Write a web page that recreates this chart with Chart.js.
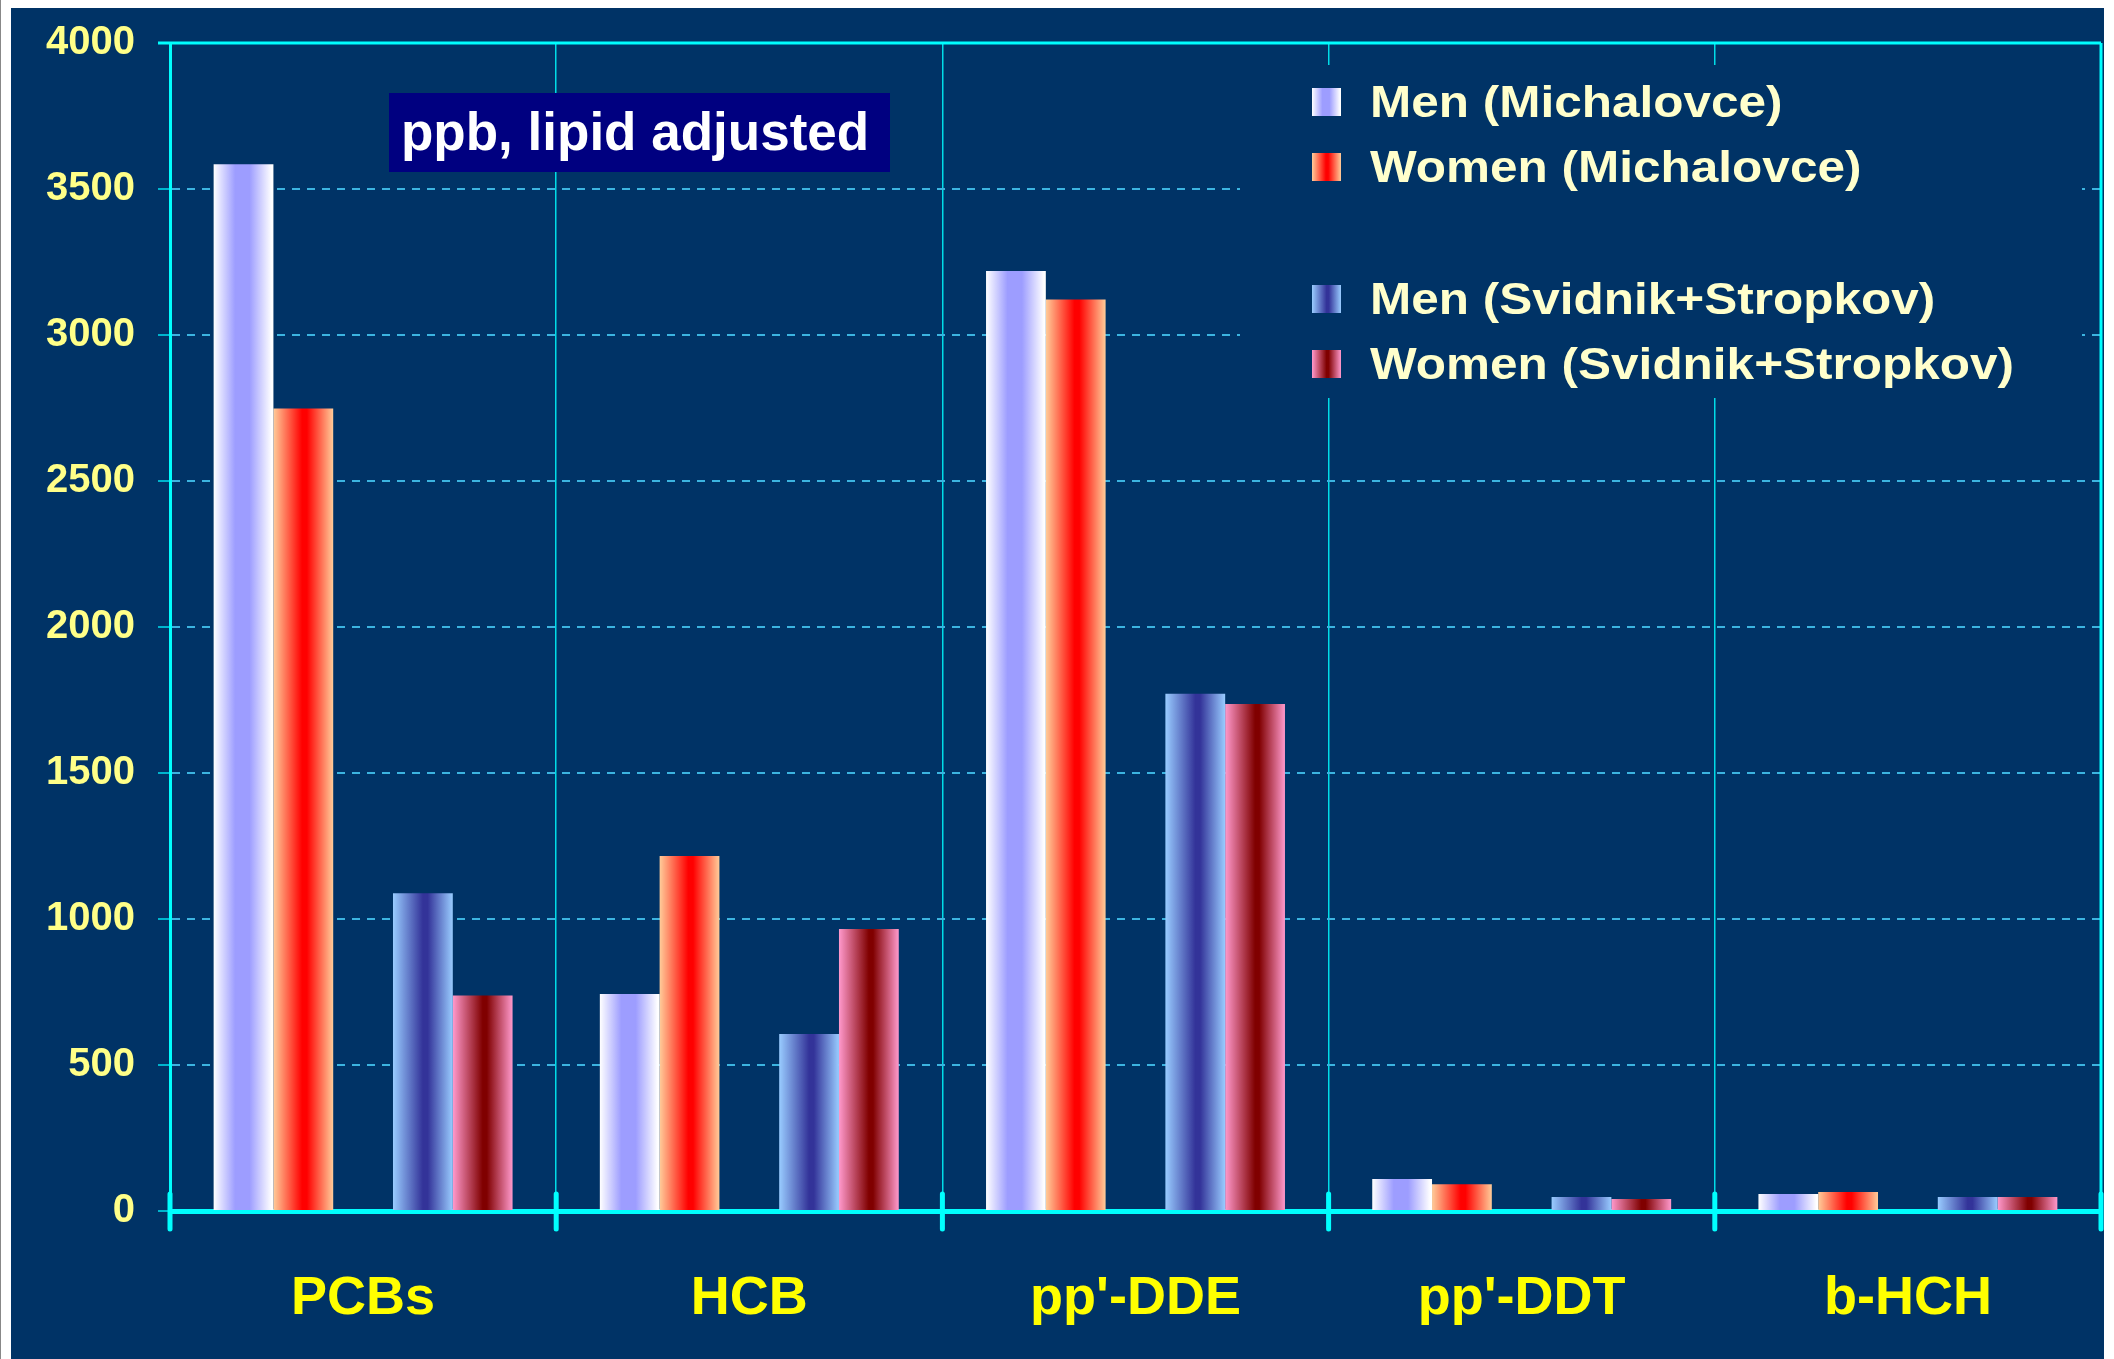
<!DOCTYPE html>
<html><head><meta charset="utf-8">
<script src="https://cdn.jsdelivr.net/npm/chart.js@4.4.1/dist/chart.umd.min.js"></script>
<style>
html,body{margin:0;padding:0;background:#fff;width:2114px;height:1359px;overflow:hidden;}
#edge{position:absolute;left:0;top:0;width:1px;height:1359px;background:#888;}
#wrap{position:absolute;left:11px;top:8px;width:2093px;height:1351px;background:#003366;}
canvas{display:block;}
</style></head><body>
<div id="edge"></div>
<div id="wrap"><canvas id="c" width="2093" height="1351"></canvas></div>
<script>
// ---- data ----
const categories = ["PCBs", "HCB", "pp'-DDE", "pp'-DDT", "b-HCH"];
const menMichalovce   = [3585, 743, 3219, 110, 58];
const womenMichalovce = [2748, 1216, 3122, 92, 65];
const menSvidnik      = [1088, 606, 1771, 48, 48];
const womenSvidnik    = [738, 966, 1736, 41, 48];
const seriesLabels = ["Men (Michalovce)", "Women (Michalovce)", "Men (Svidnik+Stropkov)", "Women (Svidnik+Stropkov)"];
const yMin = 0, yMax = 4000, yStep = 500;
const unitNote = "ppb, lipid adjusted";

// ---- styles ----
const BG = '#003366';
const CYAN = '#00ffff';
const gradStops = {
  menM:   [[0,'#ffffff'],[0.36,'#9d9dff'],[0.6,'#9d9dff'],[0.97,'#ffffff'],[1,'#ffffff']],
  womenM: [[0,'#ffcc99'],[0.48,'#ff0000'],[0.56,'#ff0000'],[1,'#ffcc99']],
  menS:   [[0,'#99ccff'],[0.5,'#333399'],[0.58,'#333399'],[1,'#99ccff']],
  womenS: [[0,'#ff99cc'],[0.5,'#800000'],[0.57,'#800000'],[1,'#ff99cc']]
};
function makeGrad(ctx, left, width, stops) {
  const g = ctx.createLinearGradient(left, 0, left + width, 0);
  stops.forEach(s => g.addColorStop(s[0], s[1]));
  return g;
}
const baseColor = c => (() => c);

const datasets = [
  {label: seriesLabels[0], data: menMichalovce, backgroundColor: baseColor('#9d9dff'), _g: 'menM'},
  {label: seriesLabels[1], data: womenMichalovce, backgroundColor: baseColor('#ff0000'), _g: 'womenM'},
  {label: '', data: categories.map(() => null), backgroundColor: baseColor('rgba(0,0,0,0)'), _g: null},
  {label: seriesLabels[2], data: menSvidnik, backgroundColor: baseColor('#333399'), _g: 'menS'},
  {label: seriesLabels[3], data: womenSvidnik, backgroundColor: baseColor('#800000'), _g: 'womenS'}
];

const gradientPlugin = {
  id: 'gradBars',
  beforeDatasetsDraw(chart) {
    const ctx = chart.ctx;
    chart.data.datasets.forEach((ds, i) => {
      if (!ds._g) return;
      const meta = chart.getDatasetMeta(i);
      meta.data.forEach(el => {
        const left = el.x - el.width / 2;
        try { el.options.backgroundColor = makeGrad(ctx, left, el.width, gradStops[ds._g]); } catch (e) {}
      });
    });
  }
};

const decorPlugin = {
  id: 'decor',
  afterDraw(chart) {
    const ctx = chart.ctx;
    const a = chart.chartArea;
    ctx.save();
    // top and right frame
    ctx.strokeStyle = CYAN;
    ctx.lineWidth = 3;
    ctx.beginPath();
    ctx.moveTo(a.left - 12, a.top); ctx.lineTo(a.right, a.top);
    ctx.moveTo(a.right, a.top); ctx.lineTo(a.right, a.bottom);
    ctx.stroke();
    // thick rounded ticks on x axis at category boundaries
    ctx.lineWidth = 5;
    ctx.lineCap = 'round';
    const n = categories.length;
    for (let i = 0; i <= n; i++) {
      const x = a.left + (a.right - a.left) * i / n;
      ctx.beginPath();
      ctx.moveTo(x, a.bottom - 17);
      ctx.lineTo(x, a.bottom + 18);
      ctx.stroke();
    }
    ctx.lineCap = 'butt';
    // unit note box
    ctx.fillStyle = '#000080';
    ctx.fillRect(378, 85, 501, 79);
    ctx.fillStyle = '#ffffff';
    ctx.font = 'bold 53px "Liberation Sans", Arial, sans-serif';
    ctx.textBaseline = 'alphabetic';
    ctx.textAlign = 'left';
    ctx.fillText(unitNote, 390, 142);
    // legend box
    ctx.fillStyle = BG;
    ctx.fillRect(1229, 57, 842, 333);
    const legendRows = [
      {label: seriesLabels[0], g: 'menM', base: 109},
      {label: seriesLabels[1], g: 'womenM', base: 174},
      {label: seriesLabels[2], g: 'menS', base: 306},
      {label: seriesLabels[3], g: 'womenS', base: 371}
    ];
    ctx.font = 'bold 45px "Liberation Sans", Arial, sans-serif';
    legendRows.forEach(r => {
      ctx.fillStyle = makeGrad(ctx, 1301, 29, gradStops[r.g]);
      ctx.fillRect(1301, r.base - 29, 29, 28);
      ctx.save();
      ctx.translate(1359, r.base);
      ctx.scale(1.1, 1);
      ctx.fillStyle = '#ffffcc';
      ctx.fillText(r.label, 0, 0);
      ctx.restore();
    });
    ctx.restore();
  }
};

new Chart(document.getElementById('c'), {
  type: 'bar',
  data: {labels: categories, datasets: datasets},
  options: {
    responsive: false,
    animation: false,
    events: [],
    layout: {padding: {top: 35, right: 3, left: 0, bottom: 0}},
    datasets: {bar: {categoryPercentage: 0.774, barPercentage: 1, borderWidth: 0}},
    plugins: {legend: {display: false}, tooltip: {enabled: false}, title: {display: false}},
    scales: {
      x: {
        offset: true,
        afterFit(s) { s.height = 148; },
        grid: {offset: true, color: '#00dde8', lineWidth: 1.5, drawTicks: false},
        border: {display: true, color: CYAN, width: 5},
        ticks: {color: '#ffff00', padding: 56, font: {family: '"Liberation Sans", Arial, sans-serif', size: 54, weight: 'bold'}}
      },
      y: {
        min: yMin, max: yMax,
        afterFit(s) { s.width = 159; },
        grid: {color: '#3cb4e0', lineWidth: 2, tickLength: 12, tickColor: '#00e0f0', tickWidth: 1.5, tickBorderDash: []},
        border: {display: true, color: CYAN, width: 3, dash: [8, 7]},
        ticks: {
          stepSize: yStep, color: '#ffff88', padding: 23,
          callback: v => String(v),
          font: {family: '"Liberation Sans", Arial, sans-serif', size: 40, weight: 'bold', lineHeight: 0.4}
        }
      }
    }
  },
  plugins: [gradientPlugin, decorPlugin]
});
</script>
</body></html>
